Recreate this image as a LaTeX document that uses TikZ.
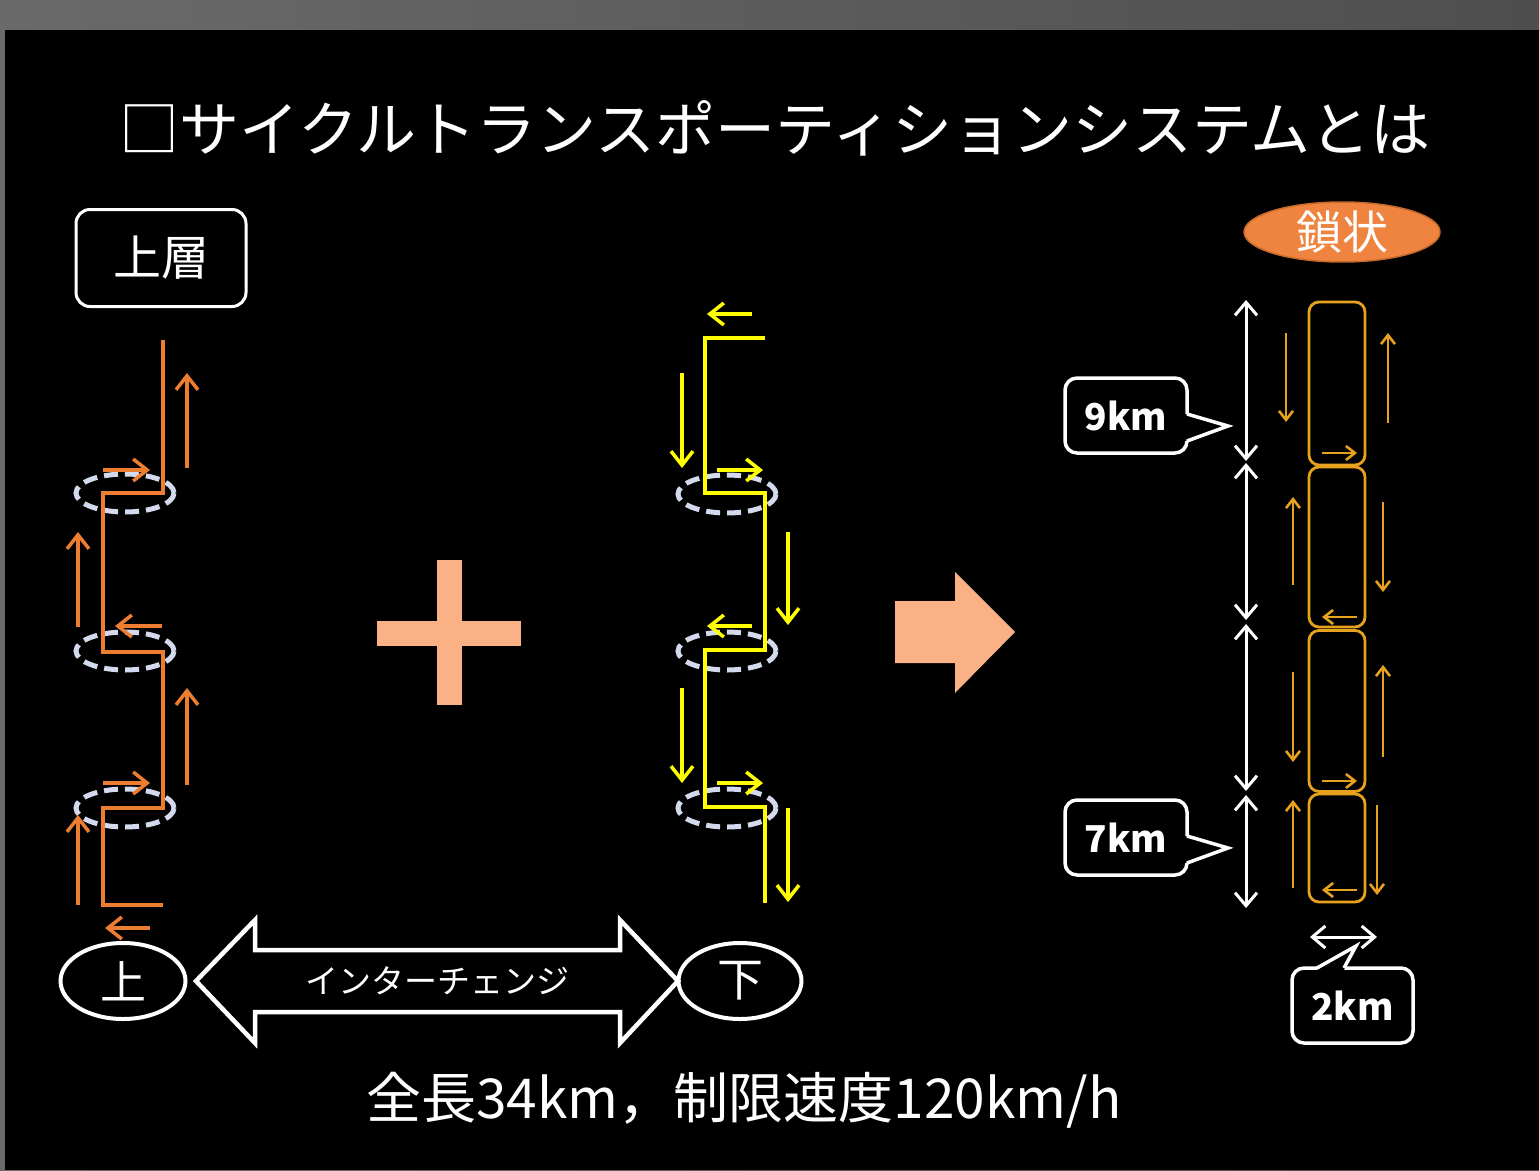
\documentclass[tikz,border=0pt]{standalone}
\usepackage{fontspec}
\setmainfont{Noto Sans CJK JP}
\usetikzlibrary{arrows.meta,shapes.geometric}
\definecolor{lor}{HTML}{ED7D31}
\definecolor{lye}{HTML}{FFFF00}
\definecolor{peach}{HTML}{F9B185}
\definecolor{gold}{HTML}{E6A21C}
\definecolor{dashc}{HTML}{D3DAEE}
\definecolor{ovor}{HTML}{EE8440}
\definecolor{gA}{HTML}{6A6A6A}
\definecolor{gB}{HTML}{4E4E4E}
\begin{document}
\begin{tikzpicture}[x=1pt,y=-1pt,
  fs/.style={font=\fontsize{#1}{#1}\selectfont},
  txt/.style={text=white, inner sep=0pt},
  dashell/.style={ellipse, draw=dashc, line width=5pt, dash pattern=on 14pt off 7pt, minimum width=98pt, minimum height=38pt, inner sep=0pt},
  opath/.style={lor, line width=3.5pt},
  ypath/.style={lye, line width=3.5pt},
  oarr/.style={lor, line width=3.5pt, -{Straight Barb[length=14pt,width=22pt]}},
  yarr/.style={lye, line width=3.5pt, -{Straight Barb[length=14pt,width=22pt]}},
  gbox/.style={draw=gold, line width=2.8pt, rounded corners=10pt, minimum width=56pt, inner sep=0pt},
  garr/.style={gold, line width=2.6pt, -{Straight Barb[length=9pt,width=14pt]}},
  darr/.style={white, line width=3pt, {Straight Barb[length=13pt,width=22pt]}-{Straight Barb[length=13pt,width=22pt]}},
  wcall/.style={draw=white, line width=3.5pt, fill=black, rounded corners=12pt, minimum width=122pt, minimum height=75pt, text=white, inner sep=0pt, font=\fontsize{37}{37}\selectfont\bfseries},
  pleg/.style={white, line width=3.5pt, line join=miter},
  wov/.style={ellipse, draw=white, line width=4pt, fill=black, text=white, inner sep=0pt, font=\fontsize{46}{46}\selectfont}
]
\useasboundingbox (0,0) rectangle (1539,1170);
% background
\shade[left color=gA, right color=gB] (0,0) rectangle (1539,1170);
\fill[black] (5,30) rectangle (1539,1170);

% title
\node[txt, fs=60] (title) at (775,128) {□サイクルトランスポーティションシステムとは};

% upper-layer label
\node[draw=white, line width=3pt, rounded corners=14pt, minimum width=170pt, minimum height=97pt, txt, fs=48] (upper) at (161,258) {上層};

% chain label
\node[ellipse, fill=ovor, draw=lor!85!black, line width=1.5pt, minimum width=196pt, minimum height=56pt, txt, fs=46] (chain) at (1342,232) {鎖状};

% ---------- left (orange) ----------
\node[dashell] (e1) at (125,493) {};
\node[dashell] (e2) at (125,651) {};
\node[dashell] (e3) at (125,808) {};
\draw[opath] (163,340) -- (163,493) -- (103,493) -- (103,652) -- (163,652) -- (163,808) -- (103,808) -- (103,905) -- (163,905);
\draw[oarr] (187,468) -- (187,373);
\draw[oarr] (103,470) -- (150,470);
\draw[oarr] (78,627) -- (78,532);
\draw[oarr] (162,626) -- (115,626);
\draw[oarr] (187,785) -- (187,688);
\draw[oarr] (103,783) -- (150,783);
\draw[oarr] (78,905) -- (78,815);
\draw[oarr] (150,928) -- (105,928);

% ---------- middle (yellow) ----------
\node[dashell] (f1) at (727,494) {};
\node[dashell] (f2) at (727,651) {};
\node[dashell] (f3) at (727,808) {};
\draw[ypath] (765,338) -- (705,338) -- (705,493) -- (765,493) -- (765,650) -- (705,650) -- (705,807) -- (765,807) -- (765,903);
\draw[yarr] (752,314) -- (707,314);
\draw[yarr] (682,373) -- (682,468);
\draw[yarr] (717,470) -- (763,470);
\draw[yarr] (788,532) -- (788,625);
\draw[yarr] (752,626) -- (707,626);
\draw[yarr] (682,688) -- (682,783);
\draw[yarr] (717,783) -- (763,783);
\draw[yarr] (788,808) -- (788,902);

% plus and big arrow
\fill[peach] (377,621) rectangle (521,646);
\fill[peach] (437,560) rectangle (462,705);
\fill[peach] (895,601) -- (955,601) -- (955,572) -- (1015,632) -- (955,693) -- (955,663) -- (895,663) -- cycle;

% ---------- bottom interchange ----------
\node[wov, minimum width=125pt, minimum height=76pt] (up) at (123,981) {上};
\node[wov, minimum width=123pt, minimum height=76pt] (down) at (740,981) {下};
\draw[white, line width=4.5pt, fill=black, line join=miter]
  (196,981) -- (255,920) -- (255,950) -- (620,950) -- (620,920) -- (678,981) -- (620,1043) -- (620,1012) -- (255,1012) -- (255,1043) -- cycle;
\node[txt, fs=33] (ic) at (437,981) {インターチェンジ};

% bottom text
\node[txt, fs=55] (spec) at (744,1100) {全長34km，制限速度120km/h};

% ---------- right (chain) ----------
\node[gbox, minimum height=163pt] (b1) at (1337,383.5) {};
\node[gbox, minimum height=160pt] (b2) at (1337,547) {};
\node[gbox, minimum height=161pt] (b3) at (1337,711) {};
\node[gbox, minimum height=108pt] (b4) at (1337,848) {};
\draw[garr] (1322,453) -- (1357,453);
\draw[garr] (1357,617) -- (1322,617);
\draw[garr] (1322,781) -- (1357,781);
\draw[garr] (1357,890) -- (1322,890);
\draw[garr] (1286,333) -- (1286,422);
\draw[garr] (1388,423) -- (1388,333);
\draw[garr] (1293,585) -- (1293,497);
\draw[garr] (1383,502) -- (1383,592);
\draw[garr] (1293,672) -- (1293,762);
\draw[garr] (1383,757) -- (1383,665);
\draw[garr] (1293,888) -- (1293,800);
\draw[garr] (1377,805) -- (1377,895);

% dimension arrows
\coordinate (d1a) at (1246,300);
\coordinate (d1b) at (1246,461);
\coordinate (d2a) at (1246,463);
\coordinate (d2b) at (1246,620);
\coordinate (d3a) at (1246,624);
\coordinate (d3b) at (1246,791);
\coordinate (d4a) at (1246,795);
\coordinate (d4b) at (1246,908);
\draw[darr] (d1a) -- (d1b);
\draw[darr] (d2a) -- (d2b);
\draw[darr] (d3a) -- (d3b);
\draw[darr] (d4a) -- (d4b);
\coordinate (wl) at (1310,937);
\coordinate (wr) at (1377,937);
\draw[darr] (wl) -- (wr);

% callouts
\node[wcall] (c9) at (1126,415.5) {9km};
\coordinate (t9) at (1228,426);
\fill[black] (1185,414) -- (t9) -- (1185,441) -- cycle;
\draw[pleg] (1187,414) -- (t9) -- (1187,441);

\node[wcall] (c7) at (1126,837.5) {7km};
\coordinate (t7) at (1228,848);
\fill[black] (1185,836) -- (t7) -- (1185,863) -- cycle;
\draw[pleg] (1187,836) -- (t7) -- (1187,863);

\node[wcall, minimum width=121pt] (c2) at (1352.5,1005.5) {2km};
\coordinate (t2) at (1356,946);
\fill[black] (1317,970) -- (t2) -- (1344,970) -- cycle;
\draw[pleg] (1317,968) -- (t2) -- (1344,968);
\end{tikzpicture}
\end{document}
